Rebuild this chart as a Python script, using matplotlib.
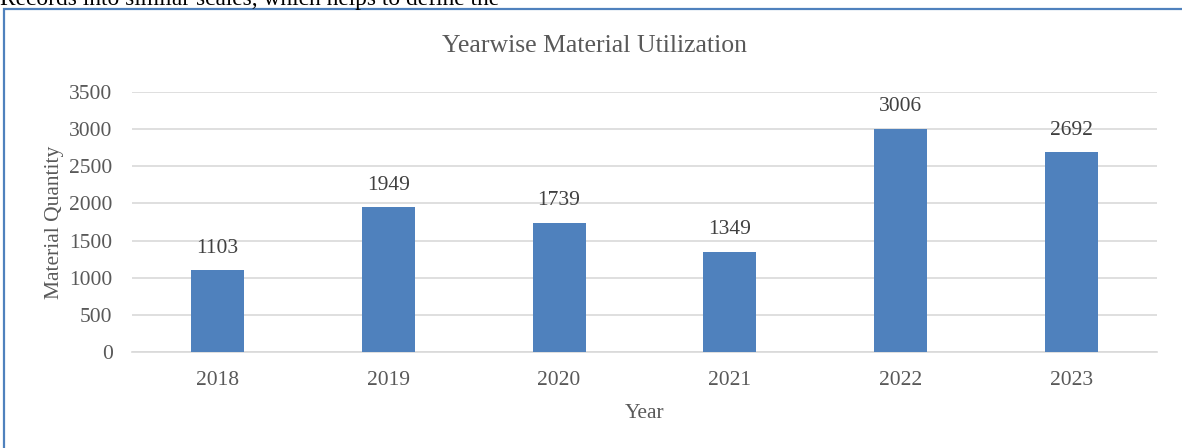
import matplotlib
matplotlib.use("Agg")
import matplotlib.pyplot as plt
from matplotlib.patches import Rectangle

# data
years = ["2018", "2019", "2020", "2021", "2022", "2023"]
quantity = [1103, 1949, 1739, 1349, 3006, 2692]
y_ticks = [0, 500, 1000, 1500, 2000, 2500, 3000, 3500]

BAR = "#4F81BD"
GRID = "#D9D9D9"
TEXT = "#595959"

plt.rcParams["font.family"] = ["Liberation Serif", "DejaVu Serif"]

fig = plt.figure(figsize=(11.82, 4.48), dpi=100)

# surrounding document text (cut off at the top, as in the page) and chart frame
fig.text(0.0, 1.0, "Records into similar scales, which helps to define the",
         ha="left", va="center", fontsize=16.8, color="black")
fig.patches.append(Rectangle((4 / 1182, -0.05), 1.2, (448 - 9) / 448 + 0.05,
                             transform=fig.transFigure, fill=False,
                             edgecolor="#4F81BD", lw=1.6))

ax = fig.add_axes([132 / 1182, (448 - 352) / 448, (1157 - 132) / 1182, 260 / 448])
x = range(len(years))
ax.bar(x, quantity, width=0.31, color=BAR, zorder=3)
for i, v in enumerate(quantity):
    ax.annotate(str(v), (i, v), xytext=(0, 9), textcoords="offset points",
                ha="center", va="bottom", fontsize=15.5, color="#404040")

ax.set_xlim(-0.5, len(years) - 0.5)
ax.set_ylim(0, 3500)
ax.set_yticks(y_ticks)
ax.set_xticks(list(x))
ax.set_xticklabels(years)
ax.grid(axis="y", color=GRID, lw=1.2, zorder=0)
ax.tick_params(length=0, labelsize=15.5, labelcolor=TEXT)
ax.tick_params(axis="x", pad=14)
ax.tick_params(axis="y", pad=14)
for s in ("top", "right", "left"):
    ax.spines[s].set_visible(False)
ax.spines["bottom"].set_color(GRID)
ax.spines["bottom"].set_linewidth(1.2)

ax.set_xlabel("Year", fontsize=15.5, color=TEXT, labelpad=10)
ax.set_ylabel("Material Quantity", fontsize=15.5, color=TEXT, labelpad=4)
fig.text(595 / 1182, 1 - 46 / 448, "Yearwise Material Utilization",
         ha="center", va="center", fontsize=18.5, color=TEXT)

fig.savefig("out.png", dpi=100)
